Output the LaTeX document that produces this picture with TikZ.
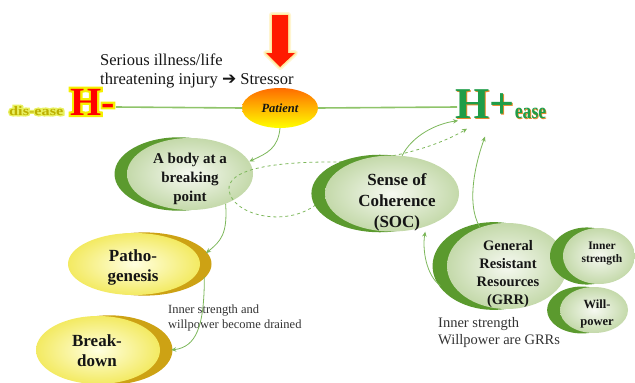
\documentclass[tikz,border=0pt]{standalone}
\usepackage{fontspec}
\usepackage{graphicx}
\setmainfont{Liberation Serif}
\newfontfamily\dejavu{DejaVu Sans}
\newfontfamily\hglowfont[BoldFeatures={FakeBold=11}]{Liberation Serif}
\newfontfamily\dglowfont[BoldFeatures={FakeBold=22}]{Liberation Serif}
\usetikzlibrary{shapes.geometric,shadows,calc,arrows.meta}
\pgfdeclarelayer{bottom}
\pgfdeclarelayer{mid}
\pgfsetlayers{bottom,mid,main}
\definecolor{lgreen}{HTML}{8FC46A}
\definecolor{cgreen}{HTML}{7CB75A}
\definecolor{dgreen}{HTML}{5B9A2E}
\definecolor{gin}{HTML}{F6F9F1}
\definecolor{gout}{HTML}{C4D9AA}
\definecolor{yin}{HTML}{FFFFE0}
\definecolor{yout}{HTML}{F3EA62}
\definecolor{gold}{HTML}{CDA214}
\definecolor{hgreen}{HTML}{1F9D48}
\definecolor{hshadow}{HTML}{E88A2E}
\definecolor{disyel}{HTML}{BDB000}
\definecolor{disglow}{HTML}{E8F060}
\definecolor{hglow}{HTML}{F5F000}
\definecolor{arrred}{HTML}{FF1A00}
\definecolor{arrglow}{HTML}{FFE27A}
\definecolor{txt}{HTML}{151515}
\definecolor{anntxt}{HTML}{333333}
\newcommand\gcp[3]{\makebox[0pt][l]{\hspace*{#1}\raisebox{#2}{#3}}}
\tikzset{
  hline/.style={draw=lgreen, line width=1.6pt},
  conn/.style={draw=cgreen, line width=0.8pt, -{Stealth[length=5pt,width=4.5pt]}},
  bub/.style={ellipse, inner sep=0pt, shade, inner color=gin, outer color=gout},
  ybub/.style={ellipse, inner sep=0pt, shade, inner color=yin, outer color=yout},
  gcres/.style={general shadow={fill=dgreen, shadow xshift=#1, shadow yshift=0pt, shadow scale=1.02}},
  ycres/.style={general shadow={fill=gold, shadow xshift=#1, shadow yshift=0pt, shadow scale=1.02}},
  btext/.style={inner sep=0pt, align=center, text=txt},
  ann/.style={inner sep=0pt, anchor=base west, text=anntxt},
  lbl/.style={inner sep=0pt, anchor=base west, text=txt},
}
\begin{document}
\begin{tikzpicture}[x=1pt,y=-1pt]
\useasboundingbox (0,0) rectangle (635,383);

% red stressor arrow
\path[preaction={draw=arrglow, line width=6pt, opacity=0.35, line join=round},
      preaction={draw=arrglow, line width=3pt, opacity=0.6, line join=round},
      fill=arrred]
  (272,15) -- (288,15) -- (288,53) -- (295,53) -- (280,67) -- (266,53) -- (272,53) -- cycle;

% texts at top
\node[lbl, font=\fontsize{16.5}{19}\selectfont] (l1) at (100,65) {Serious illness/life};
\node[lbl, font=\fontsize{16.5}{19}\selectfont] (l2) at (100,84) {threatening injury {\dejavu\bfseries\fontsize{17}{17}\selectfont ➔} Stressor};

% H- and dis-ease
\node[lbl, font=\fontsize{13}{13}\selectfont\bfseries] (dis) at (9,115)
  {\scalebox{1.25}[1]{\gcp{0pt}{0pt}{\dglowfont\bfseries\textcolor{disglow}{dis-ease}}\textcolor{disyel}{dis-ease}}};
\node[lbl, font=\fontsize{40}{40}\selectfont\bfseries] (hminus) at (70,115)
  {\gcp{0pt}{0pt}{\hglowfont\bfseries\textcolor{hglow}{H-}}\textcolor{red}{H-}};

% H+ ease
\node[lbl, font=\fontsize{44}{44}\selectfont\bfseries] (hplus) at (455,118)
  {\gcp{1.5pt}{-1.5pt}{\textcolor{hshadow}{H+}}\textcolor{hgreen}{H+}};
\node[lbl, font=\fontsize{22}{22}\selectfont\bfseries, anchor=base west] (ease) at (hplus.base east)
  {\scalebox{0.8}[1]{\gcp{1pt}{-1pt}{\textcolor{hshadow}{ease}}\textcolor{hgreen}{ease}}};

% patient
\node[ellipse, minimum width=76pt, minimum height=40pt, inner sep=0pt,
      top color=orange!85!red, middle color=red, bottom color=yellow,
      font=\fontsize{12.5}{12.5}\selectfont\bfseries\itshape, text=txt] (patient) at (280,108) {Patient};
\draw[hline] ($(hminus.base east)+(1,-8)$) -- (patient.west);
\draw[hline] (patient.east) -- ($(hplus.base west)+(2,-11)$);

% bubbles
\begin{pgfonlayer}{bottom}
\node[bub, gcres=-11pt, minimum width=126pt, minimum height=72pt] (body) at (190,174) {};
\node[btext, font=\fontsize{15}{19}\selectfont\bfseries] (bodyt) at (190,179) {A body at a\\breaking\\point};
\end{pgfonlayer}
\node[ybub, ycres=10pt, minimum width=132pt, minimum height=62pt] (patho) at (134,264) {};
\node[btext, font=\fontsize{17}{20}\selectfont\bfseries] (pathot) at (133,267) {Patho-\\genesis};
\node[ybub, ycres=11pt, minimum width=124pt, minimum height=68pt] (breakdown) at (98,350) {};
\node[btext, font=\fontsize{17}{20}\selectfont\bfseries] (breakt) at (97,351) {Break-\\down};
\node[bub, gcres=-12pt, minimum width=134pt, minimum height=76pt] (soc) at (392,193.5) {};
\node[btext, font=\fontsize{17}{21}\selectfont\bfseries] (soct) at (397,202) {Sense of\\Coherence\\(SOC)};
\node[bub, gcres=-13pt, minimum width=120pt, minimum height=86pt] (grr) at (507,266) {};
\node[btext, font=\fontsize{14.5}{18}\selectfont\bfseries] (grrt) at (508,274) {General\\Resistant\\Resources\\(GRR)};
\node[bub, gcres=-12pt, minimum width=72pt, minimum height=56pt] (inner) at (599,256) {};
\node[btext, font=\fontsize{11.5}{13.5}\selectfont\bfseries] (innert) at (602,253.5) {Inner\\strength};
\node[bub, gcres=-12pt, minimum width=68pt, minimum height=46pt] (will) at (594,310) {};
\node[btext, font=\fontsize{12.5}{17}\selectfont\bfseries] (willt) at (597,313.5) {Will-\\power};

% annotations
\node[ann, font=\fontsize{12.5}{15}\selectfont] (a1) at (168,313) {Inner strength and};
\node[ann, font=\fontsize{12.5}{15}\selectfont] (a2) at (168,328) {willpower become drained};
\node[ann, font=\fontsize{14.5}{18}\selectfont] (a3) at (438,327) {Inner strength};
\node[ann, font=\fontsize{14.5}{18}\selectfont] (a4) at (438,344) {Willpower are GRRs};

% connectors
\draw[conn] (patient.south) .. controls +(-2,20) and +(18,-8) .. (body.12);
\draw[conn] (body.-40) .. controls +(2,30) and +(15,-12) .. ([xshift=10pt]patho.10);
\draw[conn] ([xshift=10pt]patho.-12) .. controls +(0,50) and +(25,-3) .. ([xshift=11pt]breakdown.east);
\draw[conn] (soc.75) .. controls +(10,-20) and +(-22,3) .. ([shift={(3,1)}]hplus.south west);
\draw[conn] (grr.125) .. controls +(-15,-25) and +(-8,22) .. ([shift={(30,17)}]hplus.south west);
\draw[conn] ([xshift=-13pt]grr.200) .. controls +(-14,-10) and +(-3,18) .. ([yshift=-5pt]soc.-45);
\begin{pgfonlayer}{mid}
\draw[conn, dashed] ([xshift=-12pt]soc.190) .. controls (285,228) and (232,215) .. (229,190)
  .. controls (227,170) and (270,162) .. (330,162)
  .. controls (390,162) and (440,145) .. ([shift={(12,9)}]hplus.south west);
\end{pgfonlayer}
\end{tikzpicture}
\end{document}
